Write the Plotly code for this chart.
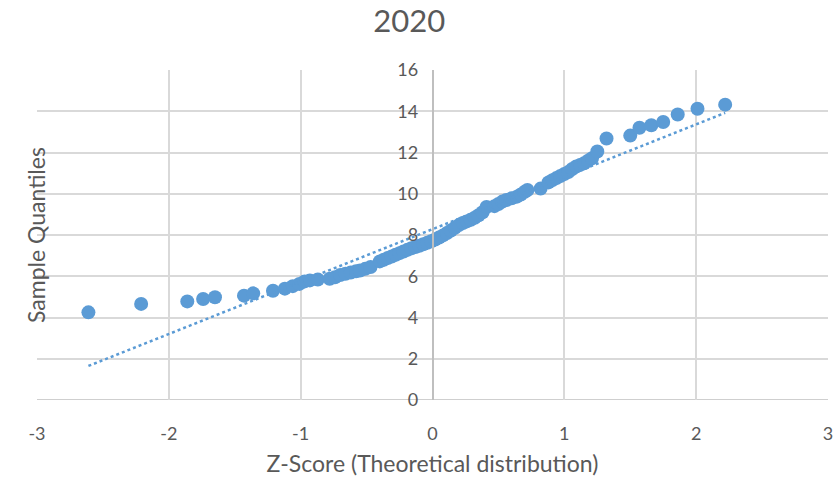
import numpy as np
import plotly.graph_objects as go

# Theoretical z-scores (x) and sample quantiles (y)
z_scores = [
    -2.61, -2.21, -1.86, -1.74, -1.65, -1.43, -1.36, -1.21, -1.12, -1.06,
    -1.01, -0.97, -0.93, -0.87, -0.78, -0.74, -0.70, -0.66, -0.62, -0.58,
    -0.55, -0.51, -0.47, -0.40, -0.37, -0.34, -0.31, -0.28, -0.25, -0.22,
    -0.19, -0.16, -0.13, -0.10, -0.07, -0.04, -0.01, 0.02, 0.05, 0.08,
    0.11, 0.14, 0.17, 0.20, 0.23, 0.26, 0.29, 0.32, 0.35, 0.38,
    0.41, 0.47, 0.50, 0.53, 0.56, 0.60, 0.64, 0.67, 0.70, 0.72,
    0.82, 0.88, 0.91, 0.94, 0.97, 1.00, 1.03, 1.06, 1.09, 1.12,
    1.15, 1.18, 1.21, 1.25, 1.32, 1.50, 1.57, 1.66, 1.75, 1.86,
    2.01, 2.22,
]
sample_quantiles = [
    4.25, 4.66, 4.78, 4.90, 4.98, 5.06, 5.17, 5.30, 5.40, 5.52,
    5.63, 5.75, 5.80, 5.84, 5.88, 5.95, 6.06, 6.12, 6.18, 6.24,
    6.28, 6.36, 6.45, 6.72, 6.80, 6.88, 6.96, 7.04, 7.12, 7.20,
    7.28, 7.36, 7.42, 7.48, 7.55, 7.62, 7.70, 7.78, 7.88, 7.98,
    8.10, 8.22, 8.35, 8.48, 8.58, 8.66, 8.74, 8.84, 8.96, 9.10,
    9.36, 9.40, 9.50, 9.62, 9.70, 9.78, 9.86, 9.96, 10.10, 10.18,
    10.25, 10.55, 10.66, 10.76, 10.86, 10.96, 11.05, 11.20, 11.32, 11.40,
    11.48, 11.60, 11.72, 12.05, 12.68, 12.82, 13.20, 13.32, 13.48, 13.84,
    14.12, 14.32,
]

x_ticks = [-3, -2, -1, 0, 1, 2, 3]
y_ticks = [0, 2, 4, 6, 8, 10, 12, 14, 16]

title_text = "2020"
x_title = "Z-Score (Theoretical distribution)"
y_title = "Sample Quantiles"

# Linear trendline (least squares, like Excel)
slope, intercept = np.polyfit(z_scores, sample_quantiles, 1)
trend_x = [min(z_scores), max(z_scores)]
trend_y = [intercept + slope * v for v in trend_x]

FONT = "Lato"
TXT = "#595959"
GRID = "#D9D9D9"
BLUE = "#5B9BD5"

ML, MR, MT, MB = 37, 7, 70, 81
W, H = 835, 481

fig = go.Figure()
fig.add_trace(go.Scatter(
    x=z_scores, y=sample_quantiles, mode="markers",
    marker=dict(color=BLUE, size=14, line=dict(width=0)),
    showlegend=False, hoverinfo="x+y",
))
fig.add_trace(go.Scatter(
    x=trend_x, y=trend_y, mode="lines",
    line=dict(color=BLUE, width=2.5, dash="dot"),
    showlegend=False, hoverinfo="skip",
))

fig.update_layout(
    width=W, height=H,
    margin=dict(l=ML, r=MR, t=MT, b=MB, autoexpand=False),
    paper_bgcolor="white", plot_bgcolor="white",
    font=dict(family=FONT, color=TXT, size=18),
    title=dict(text=title_text, x=0.49, xref="container", xanchor="center",
               y=0.957, yref="container", yanchor="middle",
               font=dict(family=FONT, size=31, color=TXT)),
    xaxis=dict(
        range=[-3, 3], tickvals=x_ticks, ticktext=[str(v) for v in x_ticks],
        showgrid=True, gridcolor=GRID, gridwidth=1.5,
        zeroline=False, showline=False, ticks="",
        ticklabelstandoff=21, automargin=False,
        tickfont=dict(family=FONT, size=18, color=TXT),
        title=dict(text=x_title, standoff=12,
                   font=dict(family=FONT, size=23, color=TXT)),
    ),
    yaxis=dict(
        range=[0, 16], tickvals=y_ticks, ticktext=[str(v) for v in y_ticks],
        showgrid=True, gridcolor=GRID, gridwidth=1.5,
        zeroline=False, showline=True, linecolor="#BFBFBF", linewidth=1.5,
        ticks="", anchor="free", position=0.5, automargin=False,
        ticklabelstandoff=10,
        tickfont=dict(family=FONT, size=18, color=TXT),
    ),
    annotations=[dict(
        text=y_title, textangle=-90,
        x=(20 - ML) / (W - ML - MR), xref="paper", y=0.5, yref="paper",
        showarrow=False, font=dict(family=FONT, size=23, color=TXT),
    )],
)
fig.add_shape(type="line", xref="x", yref="y", x0=-3, x1=3, y0=0, y1=0,
              line=dict(color="#BFBFBF", width=1.5), layer="below")

fig.write_html(
    "out.html",
    config={"displayModeBar": False},
    post_script="document.body.style.margin='0';document.body.style.overflow='hidden';",
)
